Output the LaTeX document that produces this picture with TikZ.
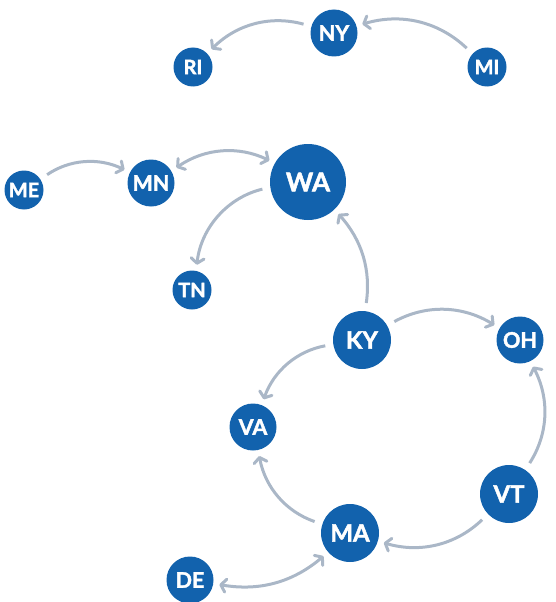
\documentclass[tikz,border=0pt]{standalone}
\usepackage{fontspec}
\setmainfont{Lato}
\newfontfamily\statefont[FakeBold=1.8]{Lato}
\usetikzlibrary{arrows.meta}
\definecolor{stateblue}{HTML}{1262AD}
\definecolor{linkgray}{HTML}{AAB7C7}

\begin{document}
\begin{tikzpicture}[
      x=1pt, y=1pt,
      state/.style={circle, fill=stateblue, text=white, inner sep=0pt, font=\statefont\bfseries\fontsize{20}{20}\selectfont},
      small/.style={state, minimum size=39pt},
      mid/.style={state, minimum size=47pt, font=\statefont\bfseries\fontsize{21.5}{21.5}\selectfont},
      large/.style={state, minimum size=58pt, font=\statefont\bfseries\fontsize{24}{24}\selectfont},
      huge/.style={state, minimum size=76pt, font=\statefont\bfseries\fontsize{26}{26}\selectfont},
      link/.style={draw=linkgray, line width=3pt, -{Straight Barb[length=5pt,width=13pt,round]}, shorten <=8pt, shorten >=6pt},
      twoway/.style={link, {Straight Barb[length=5pt,width=13pt,round]}-{Straight Barb[length=5pt,width=13pt,round]}, shorten <=6pt}
    ]
    \useasboundingbox (0,0) rectangle (555,-602);
    \node [mid] (ny) at (334,-33) {NY};
    \node [small] (ri) at (193,-67) {RI};
    \node [small] (mi) at (487,-67) {MI};
    \node [small] (me) at (24,-190) {ME};
    \node [mid] (mn) at (151,-183) {MN};
    \node [huge] (wa) at (308,-182) {WA};
    \node [small] (tn) at (192,-290) {TN};
    \node [large] (ky) at (362,-340) {KY};
    \node [mid] (oh) at (520,-340) {OH};
    \node [mid] (va) at (253,-427) {VA};
    \node [large] (vt) at (509,-494) {VT};
    \node [large] (ma) at (350,-533) {MA};
    \node [mid] (de) at (190,-580) {DE};

    \draw [link] (ny) to [bend right=30] (ri);
    \draw [link] (mi) to [bend right=30] (ny);
    \draw [link] (me) to [bend left=30] (mn);
    \draw [twoway] (mn) to [bend left=30] (wa);
    \draw [link] (wa) to [bend right=35] (tn);
    \draw [link] (ky) to [bend right=25] (wa);
    \draw [link] (ky) to [bend left=30] (oh);
    \draw [link] (ky) to [bend right=30] (va);
    \draw [link] (vt) to [bend right=30] (oh);
    \draw [link] (vt) to [bend left=30] (ma);
    \draw [link] (ma) to [bend left=30] (va);
    \draw [twoway] (ma) to [bend left=25] (de);
  \end{tikzpicture}
\end{document}
